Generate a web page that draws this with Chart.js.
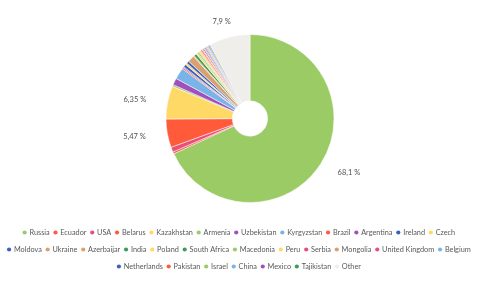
<!DOCTYPE html>
<html>
<head>
<meta charset="utf-8">
<script src="https://cdn.jsdelivr.net/npm/chart.js@4/dist/chart.umd.min.js"></script>
<style>
  html, body { margin: 0; padding: 0; background: #fff; }
  #wrap { width: 478px; height: 293px; }
</style>
</head>
<body>
<div id="wrap"><canvas id="country-chart"></canvas></div>
<script>
const countries = ['Russia', 'Ecuador', 'USA', 'Belarus', 'Kazakhstan', 'Armenia', 'Uzbekistan', 'Kyrgyzstan',
    'Brazil', 'Argentina', 'Ireland', 'Czech', 'Moldova', 'Ukraine', 'Azerbaijar', 'India', 'Poland',
    'South Africa', 'Macedonia', 'Peru', 'Serbia', 'Mongolia', 'United Kingdom', 'Belgium', 'Netherlands',
    'Pakistan', 'Israel', 'China', 'Mexico', 'Tajikistan', 'Other'];
const shares = [68.1, 0.38, 0.95, 5.47, 6.35, 0.35, 1.3, 2.2,
    0.25, 0.2, 0.55, 0.35, 0.5, 1.3, 0.2, 0.5, 0.35,
    0.2, 0.2, 0.35, 0.25, 0.2, 0.25, 0.2, 0.2,
    0.15, 0.2, 0.2, 0.2, 0.2, 7.9];
const colors = ['#9bcb64', '#ff5a3c', '#e8507a', '#ff5b3a', '#ffd966', '#9bcb64', '#a04fbd', '#78b4e8',
    '#ff5a3c', '#a04fbd', '#3d5fbf', '#ffd966', '#3d5fbf', '#d9a070', '#d9a070', '#3e9b5a', '#ffd966',
    '#3e9b5a', '#9bcb64', '#ffd966', '#e8507a', '#d9a070', '#e8507a', '#78b4e8', '#3d5fbf',
    '#ff5a3c', '#9bcb64', '#78b4e8', '#a04fbd', '#3e9b5a', '#f0eeea'];
const labelMin = 5;

// shift the pie a bit right of the canvas centre, like the original
const shiftPie = {
    id: 'shiftPie',
    afterLayout(chart) {
        const a = chart.chartArea;
        a.left += 22;
        a.width -= 22;
    }
};

// legend boxes are left blank (tall, for the row spacing); put small dots in them
const legendDots = {
    id: 'legendDots',
    afterDraw(chart) {
        const ctx = chart.ctx;
        ctx.save();
        chart.legend.legendHitBoxes.forEach((box, i) => {
            ctx.beginPath();
            ctx.arc(box.left + 1.8, box.top + box.height / 2, 2.1, 0, Math.PI * 2);
            ctx.fillStyle = colors[i];
            ctx.fill();
        });
        ctx.restore();
    }
};

// percent labels outside the big slices
const sliceLabels = {
    id: 'sliceLabels',
    afterDatasetsDraw(chart) {
        const ctx = chart.ctx;
        const meta = chart.getDatasetMeta(0);
        ctx.save();
        ctx.font = '7.5px Lato';
        ctx.fillStyle = '#505050';
        ctx.textAlign = 'center';
        ctx.textBaseline = 'middle';
        meta.data.forEach((arc, i) => {
            const v = shares[i];
            if (v < labelMin) return;
            const p = arc.getProps(['x', 'y', 'startAngle', 'endAngle', 'outerRadius'], true);
            const mid = (p.startAngle + p.endAngle) / 2;
            const txt = String(v).replace('.', ',') + ' %';
            const w = ctx.measureText(txt).width;
            const cx = p.x + Math.cos(mid) * (p.outerRadius + 22 + w / 2);
            const cy = p.y + Math.sin(mid) * (p.outerRadius + 12 + 4);
            ctx.fillText(txt, cx, cy);
        });
        ctx.restore();
    }
};

new Chart(document.getElementById('country-chart'), {
    type: 'doughnut',
    data: {
        labels: countries,
        datasets: [{
            data: shares,
            backgroundColor: colors,
            borderColor: '#ffffff',
            borderWidth: 0.5
        }]
    },
    options: {
        responsive: true,
        maintainAspectRatio: false,
        animation: false,
        cutout: '21%',
        radius: 84,
        layout: { padding: { top: 15, bottom: 10 } },
        plugins: {
            tooltip: { enabled: false },
            legend: {
                position: 'bottom',
                labels: {
                    boxWidth: 3,
                    boxHeight: 13,
                    padding: 4,
                    color: '#595959',
                    font: { family: 'Lato', size: 7.3 },
                    generateLabels(chart) {
                        return countries.map((name, i) => ({
                            text: name,
                            fillStyle: 'rgba(0,0,0,0)',
                            strokeStyle: 'rgba(0,0,0,0)',
                            lineWidth: 0,
                            fontColor: '#595959',
                            hidden: false,
                            index: i
                        }));
                    }
                }
            }
        }
    },
    plugins: [shiftPie, sliceLabels, legendDots]
});
</script>
</body>
</html>
